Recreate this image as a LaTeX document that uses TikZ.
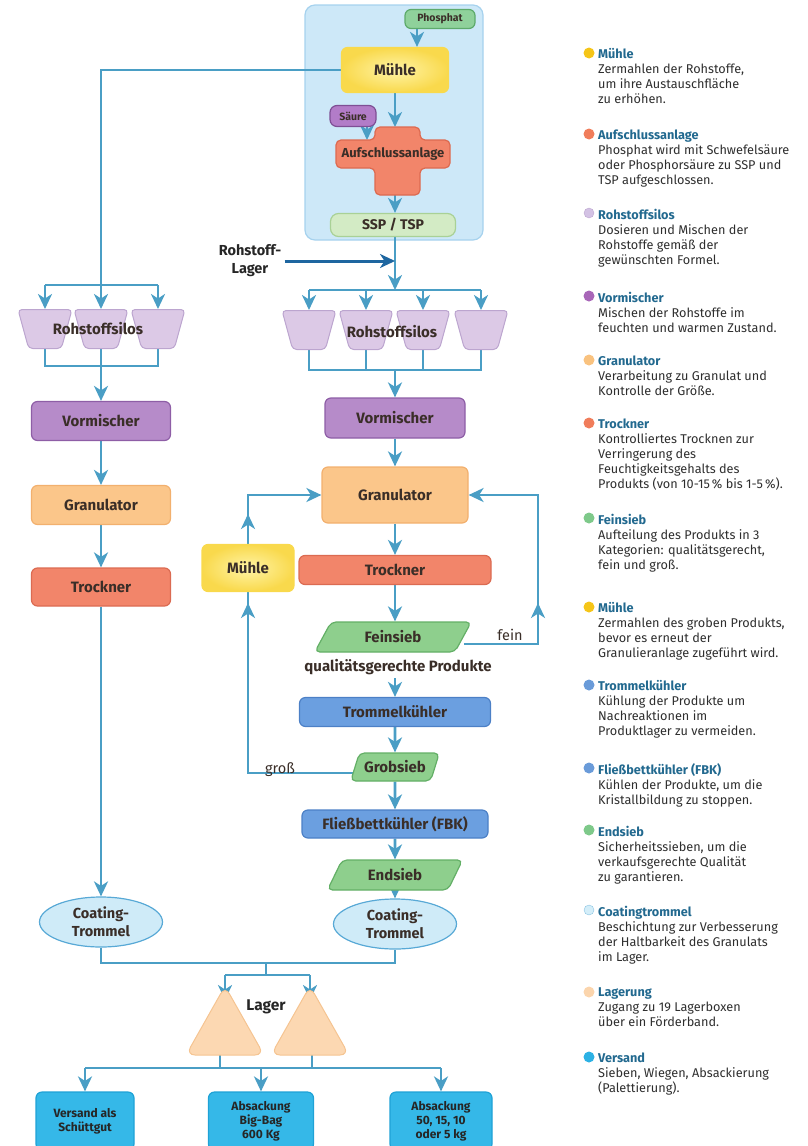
\documentclass[tikz,border=0pt]{standalone}
\usepackage{fontspec}
\setmainfont{Fira Sans}
\usepackage{tikz}
\usetikzlibrary{arrows.meta,shapes.geometric}

\pgfdeclarelayer{background}
\pgfsetlayers{background,main}

\definecolor{flowcol}{HTML}{4A9EC5}
\definecolor{inflowcol}{HTML}{1E66A0}
\definecolor{framefill}{HTML}{CDE8F8}
\definecolor{frameline}{HTML}{A6D2EE}
\definecolor{phosfill}{HTML}{8FD19B}
\definecolor{phosline}{HTML}{5DAA6B}
\definecolor{millin}{HTML}{FFF4A6}
\definecolor{millout}{HTML}{F9D94C}
\definecolor{acidfill}{HTML}{B27CC8}
\definecolor{acidline}{HTML}{7E4F95}
\definecolor{digestfill}{HTML}{F2856A}
\definecolor{digestline}{HTML}{DD6A50}
\definecolor{sspfill}{HTML}{D3EBC5}
\definecolor{sspline}{HTML}{A9D196}
\definecolor{silofill}{HTML}{DCC9E6}
\definecolor{siloline}{HTML}{BCA5CF}
\definecolor{premixfill}{HTML}{B68BC9}
\definecolor{premixline}{HTML}{8E5EA6}
\definecolor{granfill}{HTML}{FBC68A}
\definecolor{granline}{HTML}{F2B06E}
\definecolor{dryfill}{HTML}{F2856A}
\definecolor{dryline}{HTML}{DB6B52}
\definecolor{sievefill}{HTML}{8ECF8D}
\definecolor{sieveline}{HTML}{63AF66}
\definecolor{coolfill}{HTML}{6B9FE0}
\definecolor{coolline}{HTML}{4C80C6}
\definecolor{coatfill}{HTML}{CFEBF8}
\definecolor{coatline}{HTML}{58A9D6}
\definecolor{storefill}{HTML}{FCD8B2}
\definecolor{storeline}{HTML}{F5C491}
\definecolor{shipfill}{HTML}{35B8E8}
\definecolor{shipline}{HTML}{1FA2D6}
\definecolor{labeltext}{HTML}{3A2E28}
\definecolor{legtitle}{HTML}{22698F}
\definecolor{legtext}{HTML}{2E2E2E}
% legend bullets
\definecolor{bulmill}{HTML}{F5C518}
\definecolor{bulred}{HTML}{F07D5B}
\definecolor{bulsilo}{HTML}{D3C2E4}
\definecolor{bulmix}{HTML}{A866B8}
\definecolor{bulgran}{HTML}{F9C27F}
\definecolor{bulgreen}{HTML}{7EC98A}
\definecolor{bulblue}{HTML}{6A9BD9}
\definecolor{bulcoat}{HTML}{D4EEF9}
\definecolor{bulstore}{HTML}{FBD5AD}
\definecolor{bulship}{HTML}{2CB1E4}

\begin{document}
\begin{tikzpicture}[
  x=1pt, y=-1pt,
  font=\fontsize{15}{18}\selectfont\bfseries,
  flow/.style={line width=2.7pt, draw=flowcol},
  flowarr/.style={flow, -{Stealth[length=15pt,width=14pt,inset=4.5pt]}},
  stepbox/.style={rounded corners=6pt, line width=1.2pt, text=labeltext, inner sep=2pt},
  silo/.style={trapezium, trapezium left angle=108, trapezium right angle=108,
    trapezium stretches=true, minimum width=54, minimum height=39,
    fill=silofill, draw=siloline, line width=1pt, rounded corners=4pt, inner sep=4pt},
  sieve/.style={trapezium, trapezium left angle=64, trapezium right angle=116,
    trapezium stretches=true, minimum height=29, fill=sievefill, draw=sieveline,
    line width=1.2pt, rounded corners=5pt, text=labeltext, inner sep=2pt},
  coat/.style={ellipse, minimum width=123, minimum height=50, fill=coatfill,
    draw=coatline, line width=1.2pt, align=center, text=labeltext, inner sep=0pt,
    font=\fontsize{14.5}{18}\selectfont\bfseries},
  ship/.style={stepbox, fill=shipfill, draw=shipline, minimum height=58, align=center,
    text=black!85, font=\fontsize{12}{14}\selectfont\bfseries},
  storetri/.style={fill=storefill, draw=storeline, line width=1pt, rounded corners=9pt},
  smalllbl/.style={text=labeltext, font=\fontsize{14.5}{16}\selectfont},
  legbody/.style={anchor=north west, align=left, inner sep=0pt, text=legtext,
    font=\fontsize{12.7}{15}\selectfont},
]
\useasboundingbox (0,0) rectangle (808,1146);

% =====================================================
% digestion unit (blue frame)
% =====================================================
\begin{pgfonlayer}{background}
  \draw[fill=framefill, draw=frameline, line width=1.2pt, rounded corners=10pt]
    (305,5) rectangle (483,240);
\end{pgfonlayer}

\node[stepbox, fill=phosfill, draw=phosline, minimum width=70, minimum height=19,
  font=\fontsize{10.5}{12}\selectfont\bfseries] (phosphat) at (440,19) {Phosphat};
\node[stepbox, inner color=millin, outer color=millout, draw=millout,
  minimum width=107, minimum height=45] (muehle) at (395,70) {Mühle};
\node[stepbox, fill=acidfill, draw=acidline, minimum width=46, minimum height=21,
  rounded corners=7pt, font=\fontsize{10.5}{12}\selectfont\bfseries] (saeure) at (353,116) {Säure};

% cross shaped digester
\draw[fill=digestfill, draw=digestline, line width=1.2pt, rounded corners=5pt]
  (375,127) -- (420,127) -- (420,140) -- (450,140) -- (450,168) -- (420,168)
  -- (420,195) -- (375,195) -- (375,168) -- (336,168) -- (336,140) -- (375,140) -- cycle;
\node[text=labeltext, font=\fontsize{13}{15}\selectfont\bfseries] (aufschluss) at (393,154) {Aufschlussanlage};
\coordinate (crosstop) at (395,127);
\coordinate (crossbot) at (395,195);
\coordinate (acidin) at (367,140);

\node[stepbox, fill=sspfill, draw=sspline, minimum width=125, minimum height=23,
  rounded corners=8pt, font=\fontsize{14}{16}\selectfont\bfseries] (ssp) at (393,225) {SSP / TSP};

\node[text=black!85, align=center, font=\fontsize{14.5}{18}\selectfont\bfseries] (rohlager) at (250,261) {Rohstoff-\\Lager};

% ---------- split points ----------
\coordinate (phx) at (417,0);
\coordinate (rsplit) at (395,290);
\coordinate (rmerge) at (395,370);
\coordinate (lsplit) at (101,285);
\coordinate (lmerge) at (101,366);

% =====================================================
% raw material silos
% =====================================================
\node[silo] (siloL1) at (45,329) {};
\node[silo] (siloL2) at (101,329) {};
\node[silo] (siloL3) at (158,329) {};
\node[text=labeltext] (silotxtL) at (98,329) {Rohstoffsilos};

\node[silo] (siloR1) at (309,330) {};
\node[silo] (siloR2) at (366,330) {};
\node[silo] (siloR3) at (423,330) {};
\node[silo] (siloR4) at (481,330) {};
\node[text=labeltext] (silotxtR) at (392,332) {Rohstoffsilos};

% =====================================================
% left line
% =====================================================
\node[stepbox, fill=premixfill, draw=premixline, minimum width=139, minimum height=39] (vormL) at (101,421) {Vormischer};
\node[stepbox, fill=granfill, draw=granline, minimum width=139, minimum height=39] (granL) at (101,505) {Granulator};
\node[stepbox, fill=dryfill, draw=dryline, minimum width=139, minimum height=38] (trockL) at (101,587) {Trockner};
\node[coat] (coatL) at (101,922) {Coating-\\Trommel};

% =====================================================
% right line
% =====================================================
\node[stepbox, fill=premixfill, draw=premixline, minimum width=140, minimum height=40] (vormR) at (395,418) {Vormischer};
\node[stepbox, fill=granfill, draw=granline, minimum width=146, minimum height=56] (granR) at (395,495) {Granulator};
\node[stepbox, fill=dryfill, draw=dryline, minimum width=192, minimum height=29] (trockR) at (395,570) {Trockner};
\node[sieve, minimum width=157, minimum height=30] (feinsieb) at (393,637) {Feinsieb};
\node[text=labeltext] (qual) at (398,667) {qualitätsgerechte Produkte};
\node[stepbox, fill=coolfill, draw=coolline, minimum width=191, minimum height=29] (trommel) at (395,712) {Trommelkühler};
\node[sieve, minimum width=89, minimum height=28] (grobsieb) at (395,767) {Grobsieb};
\node[stepbox, fill=coolfill, draw=coolline, minimum width=186, minimum height=28] (fbk) at (395,824) {Fließbettkühler (FBK)};
\node[sieve, minimum width=136, minimum height=30] (endsieb) at (395,875) {Endsieb};
\node[coat] (coatR) at (395,924) {Coating-\\Trommel};

\node[stepbox, inner color=millin, outer color=millout, draw=millout,
  minimum width=92, minimum height=47] (muehle2) at (248,568) {Mühle};
\node[smalllbl] (feinlbl) at (510,635) {fein};
\node[smalllbl] (grosslbl) at (280,770) {groß};

\coordinate (fineturn) at (538,495);
\coordinate (finemid) at (538,603);
\coordinate (coarseturn) at (248,495);
\coordinate (coarsemid1) at (248,603);
\coordinate (coarsemid2) at (248,514);

% =====================================================
% storage and shipping
% =====================================================
\draw[storetri] (225,986) -- (264,1055) -- (186,1055) -- cycle;
\draw[storetri] (310,986) -- (349,1055) -- (271,1055) -- cycle;
\node[text=black!85, font=\fontsize{15.5}{18}\selectfont\bfseries] (lagertxt) at (266,1007) {Lager};
\coordinate (storeL) at (225,1000);
\coordinate (storeR) at (310,1000);
\coordinate (storeLbot) at (220,1055);
\coordinate (storeRbot) at (312,1055);
\coordinate (coatmerge) at (266,963);
\coordinate (storesplit) at (266,975);
\coordinate (shipsplit) at (266,1068);

\node[ship, minimum width=98] (ship1) at (85,1121) {Versand als\\Schüttgut};
\node[ship, minimum width=105] (ship2) at (261,1121) {Absackung\\Big-Bag\\600 Kg};
\node[ship, minimum width=102] (ship3) at (441,1121) {Absackung\\50, 15, 10\\oder 5 kg};

% =====================================================
% connectors
% =====================================================
\begin{pgfonlayer}{background}
  \draw[flowarr] (phx |- phosphat.south) -- (phx |- muehle.north);
  \draw[flowarr] (muehle.south) -- (crosstop);
  \draw[flowarr] (acidin |- saeure.south) -- (acidin);
  \draw[flowarr] (crossbot) -- (ssp.north -| crossbot);
  \draw[flowarr] (ssp.south -| rsplit) -- (rsplit);

  % left feed
  \draw[flow] (muehle.west) -| (lsplit);
  \draw[flow] (siloL1 |- lsplit) -- (siloL3 |- lsplit);
  \foreach \i in {1,2,3}
    \draw[flowarr] (siloL\i |- lsplit) -- (siloL\i.north);
  \draw[flow] (siloL1.south) |- (siloL3.south |- lmerge) -- (siloL3.south);
  \draw[flow] (siloL2.south) -- (lmerge);

  % right feed
  \draw[flow] (siloR1 |- rsplit) -- (siloR4 |- rsplit);
  \foreach \i in {1,...,4}
    \draw[flowarr] (siloR\i |- rsplit) -- (siloR\i.north);
  \draw[flow] (siloR1.south) |- (siloR4.south |- rmerge) -- (siloR4.south);
  \draw[flow] (siloR2.south) -- (siloR2.south |- rmerge);
  \draw[flow] (siloR3.south) -- (siloR3.south |- rmerge);

  % left line
  \draw[flowarr] (lmerge) -- (vormL.north);
  \draw[flowarr] (vormL.south) -- (granL.north);
  \draw[flowarr] (granL.south) -- (trockL.north);
  \draw[flowarr] (trockL.south) -- (coatL.north);

  % right line
  \draw[flowarr] (rmerge) -- (vormR.north);
  \draw[flowarr] (vormR.south) -- (granR.north);
  \draw[flowarr] (granR.south) -- (trockR.north);
  \draw[flowarr] (trockR.south) -- (feinsieb.north -| trockR.south);
  \draw[flowarr] (qual.south -| trommel.north) -- (trommel.north);
  \draw[flowarr] (trommel.south) -- (grobsieb.north);
  \draw[flowarr] (grobsieb.south) -- (fbk.north);
  \draw[flowarr] (fbk.south) -- (endsieb.north);
  \draw[flowarr] (endsieb.south) -- (coatR.north);

  % fines back to granulator
  \draw[flowarr] ([yshift=-7pt]feinsieb.east) -| (fineturn) -- (granR.east);
  \draw[flowarr] (finemid) ++(0,22) -- (finemid);

  % oversize over mill back to granulator
  \draw[flowarr] ([yshift=-6pt]grobsieb.west) -| (coarseturn) -- (granR.west);
  \draw[flowarr] (coarsemid1) ++(0,22) -- (coarsemid1);
  \draw[flowarr] (coarsemid2) ++(0,22) -- (coarsemid2);

  % to storage
  \draw[flow] (coatL.south) |- (coatR.south |- coatmerge) -- (coatR.south);
  \draw[flow] (coatmerge) -- (storesplit);
  \draw[flow] (storeL |- storesplit) -- (storeR |- storesplit);
  \draw[flowarr] (storeL |- storesplit) -- (storeL);
  \draw[flowarr] (storeR |- storesplit) -- (storeR);

  % to shipping
  \draw[flow] (storeLbot) -- (storeLbot |- shipsplit);
  \draw[flow] (storeRbot) -- (storeRbot |- shipsplit);
  \draw[flow] (ship1 |- shipsplit) -- (ship3 |- shipsplit);
  \foreach \i in {1,2,3}
    \draw[flowarr] (ship\i |- shipsplit) -- (ship\i.north);
\end{pgfonlayer}

% raw material inlet
\draw[line width=3pt, draw=inflowcol, -{Stealth[length=15pt,width=14pt,inset=4.5pt]}]
  (rohlager.east) -- (rohlager.east -| rsplit);

% =====================================================
% legend
% =====================================================
\def\lx{598}
\def\bx{589}
\fill[bulmill] (\bx,53) circle (5.5);
\node[legbody] (leg1) at (\lx,48.5) {\textcolor{legtitle}{\bfseries Mühle}\\Zermahlen der Rohstoffe,\\um ihre Austauschfläche\\zu erhöhen.};
\fill[bulred] (\bx,134) circle (5.5);
\node[legbody] (leg2) at (\lx,129.5) {\textcolor{legtitle}{\bfseries Aufschlussanlage}\\Phosphat wird mit Schwefelsäure\\oder Phosphorsäure zu SSP und\\TSP aufgeschlossen.};
\filldraw[fill=bulsilo, draw=siloline] (\bx,213) circle (5);
\node[legbody] (leg3) at (\lx,208.5) {\textcolor{legtitle}{\bfseries Rohstoffsilos}\\Dosieren und Mischen der\\Rohstoffe gemäß der\\gewünschten Formel.};
\fill[bulmix] (\bx,296) circle (5.5);
\node[legbody] (leg4) at (\lx,291.5) {\textcolor{legtitle}{\bfseries Vormischer}\\Mischen der Rohstoffe im\\feuchten und warmen Zustand.};
\fill[bulgran] (\bx,360) circle (5.5);
\node[legbody] (leg5) at (\lx,355.5) {\textcolor{legtitle}{\bfseries Granulator}\\Verarbeitung zu Granulat und\\Kontrolle der Größe.};
\fill[bulred] (\bx,423) circle (5.5);
\node[legbody] (leg6) at (\lx,418.5) {\textcolor{legtitle}{\bfseries Trockner}\\Kontrolliertes Trocknen zur\\Verringerung des\\Feuchtigkeitsgehalts des\\Produkts (von 10-15\,\% bis 1-5\,\%).};
\fill[bulgreen] (\bx,518) circle (5.5);
\node[legbody] (leg7) at (\lx,513.5) {\textcolor{legtitle}{\bfseries Feinsieb}\\Aufteilung des Produkts in 3\\Kategorien: qualitätsgerecht,\\fein und groß.};
\fill[bulmill] (\bx,607) circle (5.5);
\node[legbody] (leg8) at (\lx,602.5) {\textcolor{legtitle}{\bfseries Mühle}\\Zermahlen des groben Produkts,\\bevor es erneut der\\Granulieranlage zugeführt wird.};
\fill[bulblue] (\bx,685) circle (5.5);
\node[legbody] (leg9) at (\lx,680.5) {\textcolor{legtitle}{\bfseries Trommelkühler}\\Kühlung der Produkte um\\Nachreaktionen im\\Produktlager zu vermeiden.};
\fill[bulblue] (\bx,768) circle (5.5);
\node[legbody] (leg10) at (\lx,763.5) {\textcolor{legtitle}{\bfseries Fließbettkühler (FBK)}\\Kühlen der Produkte, um die\\Kristallbildung zu stoppen.};
\fill[bulgreen] (\bx,830) circle (5.5);
\node[legbody] (leg11) at (\lx,825.5) {\textcolor{legtitle}{\bfseries Endsieb}\\Sicherheitssieben, um die\\verkaufsgerechte Qualität\\zu garantieren.};
\filldraw[fill=bulcoat, draw=coatline!70] (\bx,910) circle (5);
\node[legbody] (leg12) at (\lx,905.5) {\textcolor{legtitle}{\bfseries Coatingtrommel}\\Beschichtung zur Verbesserung\\der Haltbarkeit des Granulats\\im Lager.};
\fill[bulstore] (\bx,992) circle (5.5);
\node[legbody] (leg13) at (\lx,987.5) {\textcolor{legtitle}{\bfseries Lagerung}\\Zugang zu 19 Lagerboxen\\über ein Förderband.};
\fill[bulship] (\bx,1057) circle (5.5);
\node[legbody] (leg14) at (\lx,1052.5) {\textcolor{legtitle}{\bfseries Versand}\\Sieben, Wiegen, Absackierung\\(Palettierung).};

\end{tikzpicture}
\end{document}
